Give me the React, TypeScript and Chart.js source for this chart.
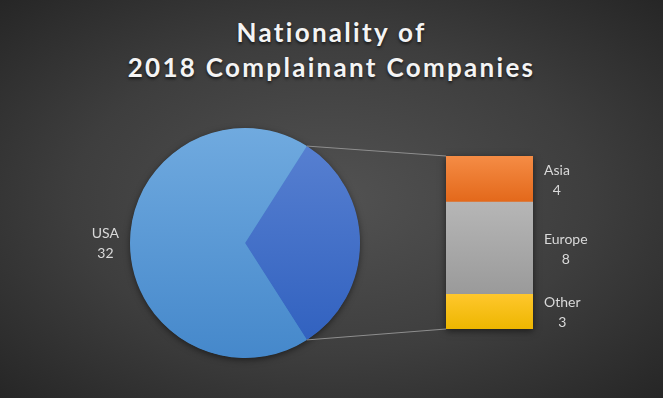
import React, { useEffect, useRef } from "react";
import { Chart, registerables } from "chart.js";

Chart.register(...registerables);

const TITLE_LINES = ["Nationality of", "2018 Complainant Companies"];
// Pie: first slice is the combined "Other" slice that is broken out in the bar
const PIE_LABELS = ["Other", "USA"];
const PIE_VALUES = [15, 32];
// Bar of pie, listed bottom to top
const BAR_LABELS = ["Other", "Europe", "Asia"];
const BAR_VALUES = [3, 8, 4];

const W = 663;
const H = 398;
const FONT = "Lato, 'Open Sans', sans-serif";
const LABEL_COLOR = "#d9d9d9";

const PIE_STOPS = [
  ["#5a82d2", "#2e5fbe"],
  ["#70aadf", "#4588cb"],
];
const BAR_STOPS = [
  ["#ffc72c", "#edb600"],
  ["#b6b6b6", "#9a9a9a"],
  ["#f58c45", "#e3681a"],
];

export default function App() {
  const pieRef = useRef<HTMLCanvasElement | null>(null);
  const barRef = useRef<HTMLCanvasElement | null>(null);

  useEffect(() => {
    if (!pieRef.current || !barRef.current) return;
    const pieTotal = PIE_VALUES.reduce((a, b) => a + b, 0);
    const rotation = 90 - (PIE_VALUES[0] / pieTotal) * 180;

    const pieShadow = {
      id: "pieShadow",
      beforeDatasetsDraw(chart: any) {
        const arc = chart.getDatasetMeta(0).data[0];
        if (!arc) return;
        const { x, y, outerRadius } = arc.getProps(["x", "y", "outerRadius"], true);
        const ctx = chart.ctx;
        ctx.save();
        ctx.shadowColor = "rgba(0,0,0,0.55)";
        ctx.shadowBlur = 7;
        ctx.shadowOffsetY = 2;
        ctx.fillStyle = "#4a8bcb";
        ctx.beginPath();
        ctx.arc(x, y, outerRadius - 0.5, 0, Math.PI * 2);
        ctx.fill();
        ctx.restore();
      },
    };

    const pieLabel = {
      id: "pieLabel",
      afterDatasetsDraw(chart: any) {
        const arc = chart.getDatasetMeta(0).data[1];
        if (!arc) return;
        const { x, y, outerRadius } = arc.getProps(["x", "y", "outerRadius"], true);
        const ctx = chart.ctx;
        ctx.save();
        ctx.font = `14px ${FONT}`;
        ctx.fillStyle = LABEL_COLOR;
        ctx.textAlign = "center";
        ctx.textBaseline = "middle";
        const lines = [PIE_LABELS[1], String(PIE_VALUES[1])];
        const bw = Math.max(...lines.map((l) => ctx.measureText(l).width));
        const cx = x - outerRadius - 11 - bw / 2;
        ctx.fillText(lines[0], cx, y - 10);
        ctx.fillText(lines[1], cx, y + 10);
        ctx.restore();
      },
    };

    const pieColor = (ctx: any) => {
      const chart = ctx.chart;
      const stops = PIE_STOPS[ctx.dataIndex] || PIE_STOPS[0];
      const ca = chart.chartArea;
      if (!ca || !isFinite(ca.top) || !isFinite(ca.bottom) || ca.bottom <= ca.top) return stops[0];
      const g = chart.ctx.createLinearGradient(0, ca.top, 0, ca.bottom);
      g.addColorStop(0, stops[0]);
      g.addColorStop(1, stops[1]);
      return g;
    };

    const pie = new Chart(pieRef.current, {
      type: "pie",
      data: {
        labels: PIE_LABELS,
        datasets: [
          {
            data: PIE_VALUES,
            backgroundColor: pieColor as any,
            borderWidth: 0,
          },
        ],
      },
      options: {
        animation: false,
        responsive: false,
        rotation,
        layout: { padding: { left: 130, right: 303, top: 128, bottom: 40 } },
        plugins: { legend: { display: false }, tooltip: { enabled: false } },
      },
      plugins: [pieShadow, pieLabel],
    });

    const barColor = (ctx: any) => {
      const chart = ctx.chart;
      const i = typeof ctx.datasetIndex === "number" ? ctx.datasetIndex : 0;
      const stops = BAR_STOPS[i] || BAR_STOPS[0];
      const y = chart.scales && chart.scales.y;
      if (!y) return stops[0];
      const lo = BAR_VALUES.slice(0, i).reduce((a, b) => a + b, 0);
      const hi = lo + BAR_VALUES[i];
      const y0 = y.getPixelForValue(hi);
      const y1 = y.getPixelForValue(lo);
      if (!isFinite(y0) || !isFinite(y1) || y0 === y1) return stops[0];
      const g = chart.ctx.createLinearGradient(0, y0, 0, y1);
      g.addColorStop(0, stops[0]);
      g.addColorStop(1, stops[1]);
      return g;
    };

    const barDecor = {
      id: "barDecor",
      beforeDatasetsDraw(chart: any) {
        const ctx = chart.ctx;
        const top = chart.getDatasetMeta(BAR_VALUES.length - 1).data[0];
        const bottom = chart.getDatasetMeta(0).data[0];
        if (!top || !bottom) return;
        const left = top.x - top.width / 2;
        // shadow behind bar
        ctx.save();
        ctx.shadowColor = "rgba(0,0,0,0.55)";
        ctx.shadowBlur = 7;
        ctx.shadowOffsetY = 2;
        ctx.fillStyle = "#9a9a9a";
        ctx.fillRect(left, top.y, top.width, bottom.base - top.y);
        ctx.restore();
        // connector lines from the pie's split slice
        const arc = pie.getDatasetMeta(0).data[0] as any;
        if (!arc) return;
        const p = arc.getProps(["x", "y", "outerRadius", "startAngle", "endAngle"], true);
        ctx.save();
        ctx.strokeStyle = "#8e8e8e";
        ctx.lineWidth = 1;
        ctx.beginPath();
        ctx.moveTo(p.x + p.outerRadius * Math.cos(p.startAngle), p.y + p.outerRadius * Math.sin(p.startAngle));
        ctx.lineTo(left, top.y);
        ctx.moveTo(p.x + p.outerRadius * Math.cos(p.endAngle), p.y + p.outerRadius * Math.sin(p.endAngle));
        ctx.lineTo(left, bottom.base);
        ctx.stroke();
        ctx.restore();
      },
      afterDatasetsDraw(chart: any) {
        const ctx = chart.ctx;
        ctx.save();
        ctx.font = `14px ${FONT}`;
        ctx.fillStyle = LABEL_COLOR;
        ctx.textAlign = "center";
        ctx.textBaseline = "middle";
        BAR_LABELS.forEach((name, i) => {
          const el = chart.getDatasetMeta(i).data[0];
          if (!el) return;
          const lines = [name, String(BAR_VALUES[i])];
          const bw = Math.max(...lines.map((l) => ctx.measureText(l).width));
          const cx = el.x + el.width / 2 + 11 + bw / 2;
          const mid = (el.y + el.base) / 2;
          ctx.fillText(lines[0], cx, mid - 9);
          ctx.fillText(lines[1], cx, mid + 11);
        });
        ctx.restore();
      },
    };

    const barTotal = BAR_VALUES.reduce((a, b) => a + b, 0);
    const bar = new Chart(barRef.current, {
      type: "bar",
      data: {
        labels: [""],
        datasets: BAR_LABELS.map((name, i) => ({
          label: name,
          data: [BAR_VALUES[i]],
          backgroundColor: barColor as any,
          borderWidth: 0,
          barPercentage: 1,
          categoryPercentage: 1,
        })),
      },
      options: {
        animation: false,
        responsive: false,
        layout: { padding: { left: 446, right: 130, top: 156, bottom: 69 } },
        scales: {
          x: { display: false, stacked: true },
          y: { display: false, stacked: true, min: 0, max: barTotal },
        },
        plugins: { legend: { display: false }, tooltip: { enabled: false } },
      },
      plugins: [barDecor],
    });

    return () => {
      bar.destroy();
      pie.destroy();
    };
  }, []);

  return (
    <div
      style={{
        position: "absolute",
        left: 0,
        top: 0,
        width: W,
        height: H,
        overflow: "hidden",
        background: "radial-gradient(ellipse farthest-corner at 50% 50%, #525252 0%, #3e3e3e 55%, #262626 100%)",
      }}
    >
      <div
        style={{
          position: "absolute",
          left: 0,
          top: 15,
          width: W,
          textAlign: "center",
          fontFamily: FONT,
          fontWeight: 700,
          fontSize: 26,
          lineHeight: "35px",
          letterSpacing: "2.3px",
          color: "#f4f4f4",
          textShadow: "0 2px 3px rgba(0,0,0,0.6)",
        }}
      >
        {TITLE_LINES.map((l, i) => (
          <div key={i}>{l}</div>
        ))}
      </div>
      <canvas ref={pieRef} width={W} height={H} style={{ position: "absolute", left: 0, top: 0 }} />
      <canvas ref={barRef} width={W} height={H} style={{ position: "absolute", left: 0, top: 0 }} />
    </div>
  );
}
